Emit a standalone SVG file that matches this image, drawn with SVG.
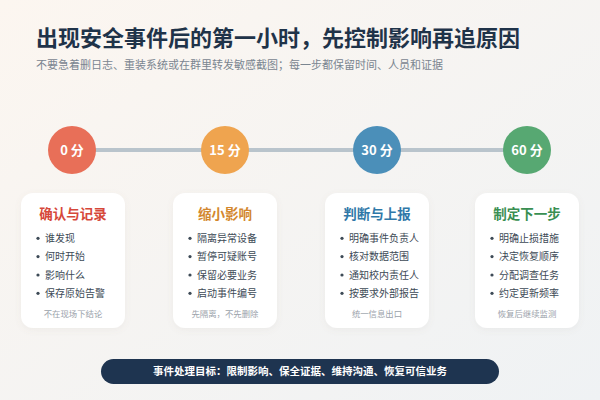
<svg xmlns="http://www.w3.org/2000/svg" width="600" height="400" viewBox="0 0 600 400">
<defs>
<linearGradient id="bg" x1="0" y1="0" x2="1" y2="1">
<stop offset="0" stop-color="#fcf6f0"/>
<stop offset="1" stop-color="#eff2f4"/>
</linearGradient>
<filter id="sh" x="-20%" y="-20%" width="140%" height="140%">
<feDropShadow dx="0" dy="2" stdDeviation="3" flood-color="#8a7a6a" flood-opacity="0.08"/>
</filter>
</defs>
<style>
text{font-family:"Noto Sans CJK SC","Noto Sans",sans-serif}
.title{font-size:22px;font-weight:700;fill:#1f3349}
.sub{font-size:11px;fill:#7a8590}
.circ-t{font-size:13px;font-weight:700;fill:#ffffff;text-anchor:middle}
.card{fill:#ffffff;filter:url(#sh)}
.ct{font-size:13.5px;font-weight:700;text-anchor:middle}
.item{font-size:10px;fill:#3d4a56}
.dot{fill:#3d4a56}
.note{font-size:8.4px;fill:#9aa2aa;text-anchor:middle}
.bar{fill:#1e3450}
.bart{font-size:10.5px;font-weight:700;fill:#ffffff;text-anchor:middle}
</style>
<rect width="600" height="400" fill="url(#bg)"/>
<text class="title" x="36" y="46">出现安全事件后的第一小时，先控制影响再追原因</text>
<text class="sub" x="36" y="69">不要急着删日志、重装系统或在群里转发敏感截图；每一步都保留时间、人员和证据</text>
<g id="connectors">
<line x1="72" y1="150" x2="527" y2="150" stroke="#b9c4cc" stroke-width="4"/>
</g>
<g id="t0"><circle cx="72" cy="150" r="24" fill="#e86f58"/><text class="circ-t" x="72" y="154.5">0 分</text></g>
<g id="t15"><circle cx="225" cy="150" r="24" fill="#efa44f"/><text class="circ-t" x="225" y="154.5">15 分</text></g>
<g id="t30"><circle cx="377" cy="150" r="24" fill="#4b8fb9"/><text class="circ-t" x="377" y="154.5">30 分</text></g>
<g id="t60"><circle cx="527" cy="150" r="24" fill="#57a872"/><text class="circ-t" x="527" y="154.5">60 分</text></g>

<g id="card1">
<rect class="card" x="21" y="193" width="104" height="135" rx="12"/>
<text class="ct" x="73" y="219" fill="#d6483a">确认与记录</text>
<circle class="dot" cx="38" cy="238.3" r="1.6"/><text class="item" x="45" y="241.8">谁发现</text>
<circle class="dot" cx="38" cy="256.6" r="1.6"/><text class="item" x="45" y="260.1">何时开始</text>
<circle class="dot" cx="38" cy="275" r="1.6"/><text class="item" x="45" y="278.5">影响什么</text>
<circle class="dot" cx="38" cy="293.3" r="1.6"/><text class="item" x="45" y="296.8">保存原始告警</text>
<text class="note" x="73" y="316.5">不在现场下结论</text>
</g>
<g id="card2">
<rect class="card" x="173" y="193" width="104" height="135" rx="12"/>
<text class="ct" x="225" y="219" fill="#d3872e">缩小影响</text>
<circle class="dot" cx="190" cy="238.3" r="1.6"/><text class="item" x="197" y="241.8">隔离异常设备</text>
<circle class="dot" cx="190" cy="256.6" r="1.6"/><text class="item" x="197" y="260.1">暂停可疑账号</text>
<circle class="dot" cx="190" cy="275" r="1.6"/><text class="item" x="197" y="278.5">保留必要业务</text>
<circle class="dot" cx="190" cy="293.3" r="1.6"/><text class="item" x="197" y="296.8">启动事件编号</text>
<text class="note" x="225" y="316.5">先隔离，不先删除</text>
</g>
<g id="card3">
<rect class="card" x="325" y="193" width="104" height="135" rx="12"/>
<text class="ct" x="377" y="219" fill="#2f78a8">判断与上报</text>
<circle class="dot" cx="342" cy="238.3" r="1.6"/><text class="item" x="349" y="241.8">明确事件负责人</text>
<circle class="dot" cx="342" cy="256.6" r="1.6"/><text class="item" x="349" y="260.1">核对数据范围</text>
<circle class="dot" cx="342" cy="275" r="1.6"/><text class="item" x="349" y="278.5">通知校内责任人</text>
<circle class="dot" cx="342" cy="293.3" r="1.6"/><text class="item" x="349" y="296.8">按要求外部报告</text>
<text class="note" x="377" y="316.5">统一信息出口</text>
</g>
<g id="card4">
<rect class="card" x="475" y="193" width="104" height="135" rx="12"/>
<text class="ct" x="527" y="219" fill="#3a8f52">制定下一步</text>
<circle class="dot" cx="492" cy="238.3" r="1.6"/><text class="item" x="499" y="241.8">明确止损措施</text>
<circle class="dot" cx="492" cy="256.6" r="1.6"/><text class="item" x="499" y="260.1">决定恢复顺序</text>
<circle class="dot" cx="492" cy="275" r="1.6"/><text class="item" x="499" y="278.5">分配调查任务</text>
<circle class="dot" cx="492" cy="293.3" r="1.6"/><text class="item" x="499" y="296.8">约定更新频率</text>
<text class="note" x="527" y="316.5">恢复后继续监测</text>
</g>
<g id="goal">
<rect class="bar" x="101" y="359" width="398" height="25" rx="12.5"/>
<text class="bart" x="300" y="375">事件处理目标：限制影响、保全证据、维持沟通、恢复可信业务</text>
</g>
</svg>
